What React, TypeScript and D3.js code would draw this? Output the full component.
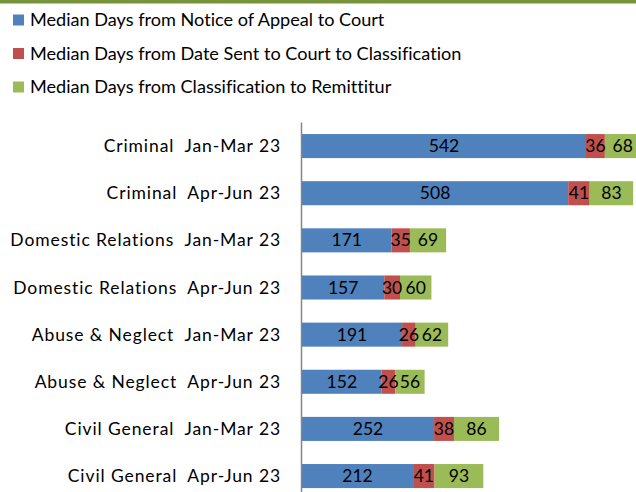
import * as React from 'react';
import * as d3 from 'd3';

const categories = [
  'Criminal  Jan-Mar 23',
  'Criminal  Apr-Jun 23',
  'Domestic Relations  Jan-Mar 23',
  'Domestic Relations  Apr-Jun 23',
  'Abuse & Neglect  Jan-Mar 23',
  'Abuse & Neglect  Apr-Jun 23',
  'Civil General  Jan-Mar 23',
  'Civil General  Apr-Jun 23',
];
const noticeToCourt = [542, 508, 171, 157, 191, 152, 252, 212];
const sentToClassification = [36, 41, 35, 30, 26, 26, 38, 41];
const classificationToRemittitur = [68, 83, 69, 60, 62, 56, 86, 93];
const seriesNames = [
  'Median Days from Notice of Appeal to Court',
  'Median Days from Date Sent to Court to Classification',
  'Median Days from Classification to Remittitur',
];
const colors = ['#4F81BD', '#C0504D', '#9BBB59'];

const W = 636;
const H = 492;
const font = 'Lato, "Open Sans", sans-serif';

export default function App() {
  const rows = categories.map((c, i) => ({
    cat: c,
    vals: [noticeToCourt[i], sentToClassification[i], classificationToRemittitur[i]],
  }));
  const stack = d3.stack<any>().keys(['0', '1', '2']).value((d, k) => d.vals[+k]);
  const stacked = stack(rows);

  const x = d3.scaleLinear().domain([0, 100]).range([302, 302 + 52.4]);
  const y = d3.scaleBand().domain(categories).range([122.5, 122.5 + 8 * 47.14]).paddingInner(0.49).paddingOuter(0.245);

  return (
    <svg width={W} height={H} style={{ position: 'absolute', left: 0, top: 0, background: '#fff', fontVariantLigatures: 'none' }}>
      <rect x={0} y={0} width={W} height={3.5} fill="#77933C" />
      {seriesNames.map((s, i) => (
        <g key={s} transform={`translate(0, ${20 + i * 33.5})`}>
          <rect x={13} y={-5.5} width={11} height={11} fill={colors[i]} />
          <text x={30} y={0} dy="0.35em" fontFamily={font} fontSize={18.1} fill="#000">{s}</text>
        </g>
      ))}
      {stacked.map((layer, si) => (
        <g key={si}>
          {layer.map((d, i) => (
            <rect key={i} x={x(d[0])} y={y(categories[i])} width={x(d[1]) - x(d[0])} height={y.bandwidth()} fill={colors[si]} />
          ))}
        </g>
      ))}
      {stacked.map((layer, si) => (
        <g key={'t' + si}>
          {layer.map((d, i) => (
            <text key={i} x={(x(d[0]) + x(d[1])) / 2} y={y(categories[i])! + y.bandwidth() / 2} dy="0.35em"
              textAnchor="middle" fontFamily={font} fontSize={17.5} fill="#000">{d[1] - d[0]}</text>
          ))}
        </g>
      ))}
      <line x1={301.5} x2={301.5} y1={122.5} y2={H} stroke="#868686" strokeWidth={1.5} />
      {categories.map(c => (
        <text key={c} x={281} y={y(c)! + y.bandwidth() / 2} dy="0.35em" textAnchor="end"
          fontFamily={font} fontSize={17.5} letterSpacing={0.9} fill="#000" style={{ whiteSpace: 'pre' }}>{c}</text>
      ))}
    </svg>
  );
}
